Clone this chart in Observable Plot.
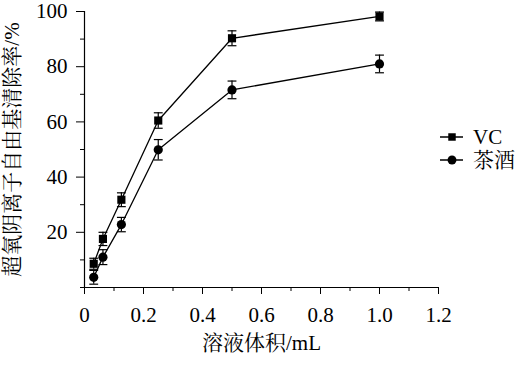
<!DOCTYPE html>
<html>
<head>
<meta charset="utf-8">
<script src="https://cdn.jsdelivr.net/npm/d3@7"></script>
<script src="https://cdn.jsdelivr.net/npm/@observablehq/plot@0.6"></script>
<style>
  html, body { margin: 0; padding: 0; background: #fff; }
  #chart { position: relative; width: 518px; height: 365px; }
  #chart svg, #chart svg text { font-family: 'Liberation Serif', 'Noto Serif CJK SC', 'Noto Sans CJK SC', serif !important; }
  #chart svg text { fill: #000; }
  #legend { position: absolute; left: 436px; top: 124px; }
</style>
</head>
<body>
<div id="chart"></div>
<script>
// ---- data ----
const volumes = [0.03125, 0.0625, 0.125, 0.25, 0.5, 1.0];
const vcValues = [8.6, 17.6, 31.8, 60.5, 90.3, 98.2];
const vcErrors = [2.0, 2.4, 2.5, 2.8, 2.7, 1.6];
const teaValues = [3.7, 11.0, 22.8, 49.9, 71.6, 81.0];
const teaErrors = [2.5, 2.7, 2.6, 3.7, 3.2, 3.2];
const seriesNames = ["VC", "茶酒"];
const xTicks = [0, 0.2, 0.4, 0.6, 0.8, 1.0, 1.2];
const xTickLabels = ["0", "0.2", "0.4", "0.6", "0.8", "1.0", "1.2"];
const xMinorTicks = [0.1, 0.3, 0.5, 0.7, 0.9, 1.1];
const yTicks = [20, 40, 60, 80, 100];
const yMinorTicks = [10, 30, 50, 70, 90];
const xTitle = "溶液体积/mL";
const yTitle = "超氧阴离子自由基清除率/%";

const rows = [];
volumes.forEach((v, i) => {
  rows.push({series: seriesNames[0], x: v, y: vcValues[i], e: vcErrors[i]});
  rows.push({series: seriesNames[1], x: v, y: teaValues[i], e: teaErrors[i]});
});

const capSymbol = {
  draw(context, size) {
    const w = Math.sqrt(size) / 2;
    context.moveTo(-w, 0);
    context.lineTo(w, 0);
  }
};
const symbolFor = s => s === seriesNames[0] ? "square" : "circle";
const font = "'Liberation Serif', 'Noto Serif CJK SC', 'Noto Sans CJK SC', serif";

const caps = rows.flatMap(d => [{x: d.x, y: d.y + d.e}, {x: d.x, y: d.y - d.e}]);

const plot = Plot.plot({
  width: 518,
  height: 365,
  marginLeft: 84,
  marginRight: 80,
  marginTop: 11,
  marginBottom: 78,
  style: {fontFamily: font, fontSize: "21px", color: "#000", background: "#fff"},
  x: {domain: [0, 1.2]},
  y: {domain: [0, 100]},
  marks: [
    Plot.axisX({ticks: xTicks, tickSize: 7, tickPadding: 13, tickFormat: (d) => xTickLabels[xTicks.indexOf(d)],
      label: xTitle, labelAnchor: "center", labelArrow: "none", labelOffset: 62, fontSize: 21, fontFamily: font, color: "#000"}),
    Plot.axisX({ticks: xMinorTicks, tickSize: 4, text: null, label: null, color: "#000"}),
    Plot.axisY({ticks: yTicks, tickSize: 8, tickPadding: 9, label: yTitle, labelAnchor: "center",
      labelArrow: "none", labelOffset: 80, fontSize: 21, fontFamily: font, color: "#000"}),
    Plot.axisY({ticks: [0, ...yMinorTicks], tickSize: 4, text: null, label: null, color: "#000"}),
    Plot.ruleY([0], {stroke: "#000", strokeWidth: 1.2}),
    Plot.ruleX([0], {stroke: "#000", strokeWidth: 1.2}),
    Plot.ruleX(rows, {x: "x", y1: d => d.y - d.e, y2: d => d.y + d.e, stroke: "#000", strokeWidth: 1.2}),
    Plot.dot(caps, {x: "x", y: "y", symbol: capSymbol, r: 5, stroke: "#000", strokeWidth: 1.2}),
    Plot.line(rows, {x: "x", y: "y", z: "series", stroke: "#000", strokeWidth: 1.3}),
    Plot.dot(rows, {x: "x", y: "y", symbol: d => symbolFor(d.series), r: 4.6, fill: "#000", stroke: "none"})
  ]
});
document.getElementById("chart").appendChild(plot);

// legend
const leg = d3.select("#chart").append("svg").attr("id", "legend")
  .attr("width", 82).attr("height", 52);
const item = leg.selectAll("g").data(seriesNames).join("g")
  .attr("transform", (d, i) => `translate(0, ${13 + i * 23})`);
item.append("line").attr("x1", 4).attr("x2", 27).attr("stroke", "#000").attr("stroke-width", 1.5);
item.append("path").attr("transform", "translate(16,0)")
  .attr("d", d => d3.symbol(d === seriesNames[0] ? d3.symbolSquare : d3.symbolCircle, d === seriesNames[0] ? 56 : 62)())
  .attr("fill", "#000");
item.append("text").attr("x", 37).attr("y", 0).attr("dy", "0.35em")
  .style("font-size", "21px").attr("fill", "#000")
  .text(d => d);
</script>
</body>
</html>
